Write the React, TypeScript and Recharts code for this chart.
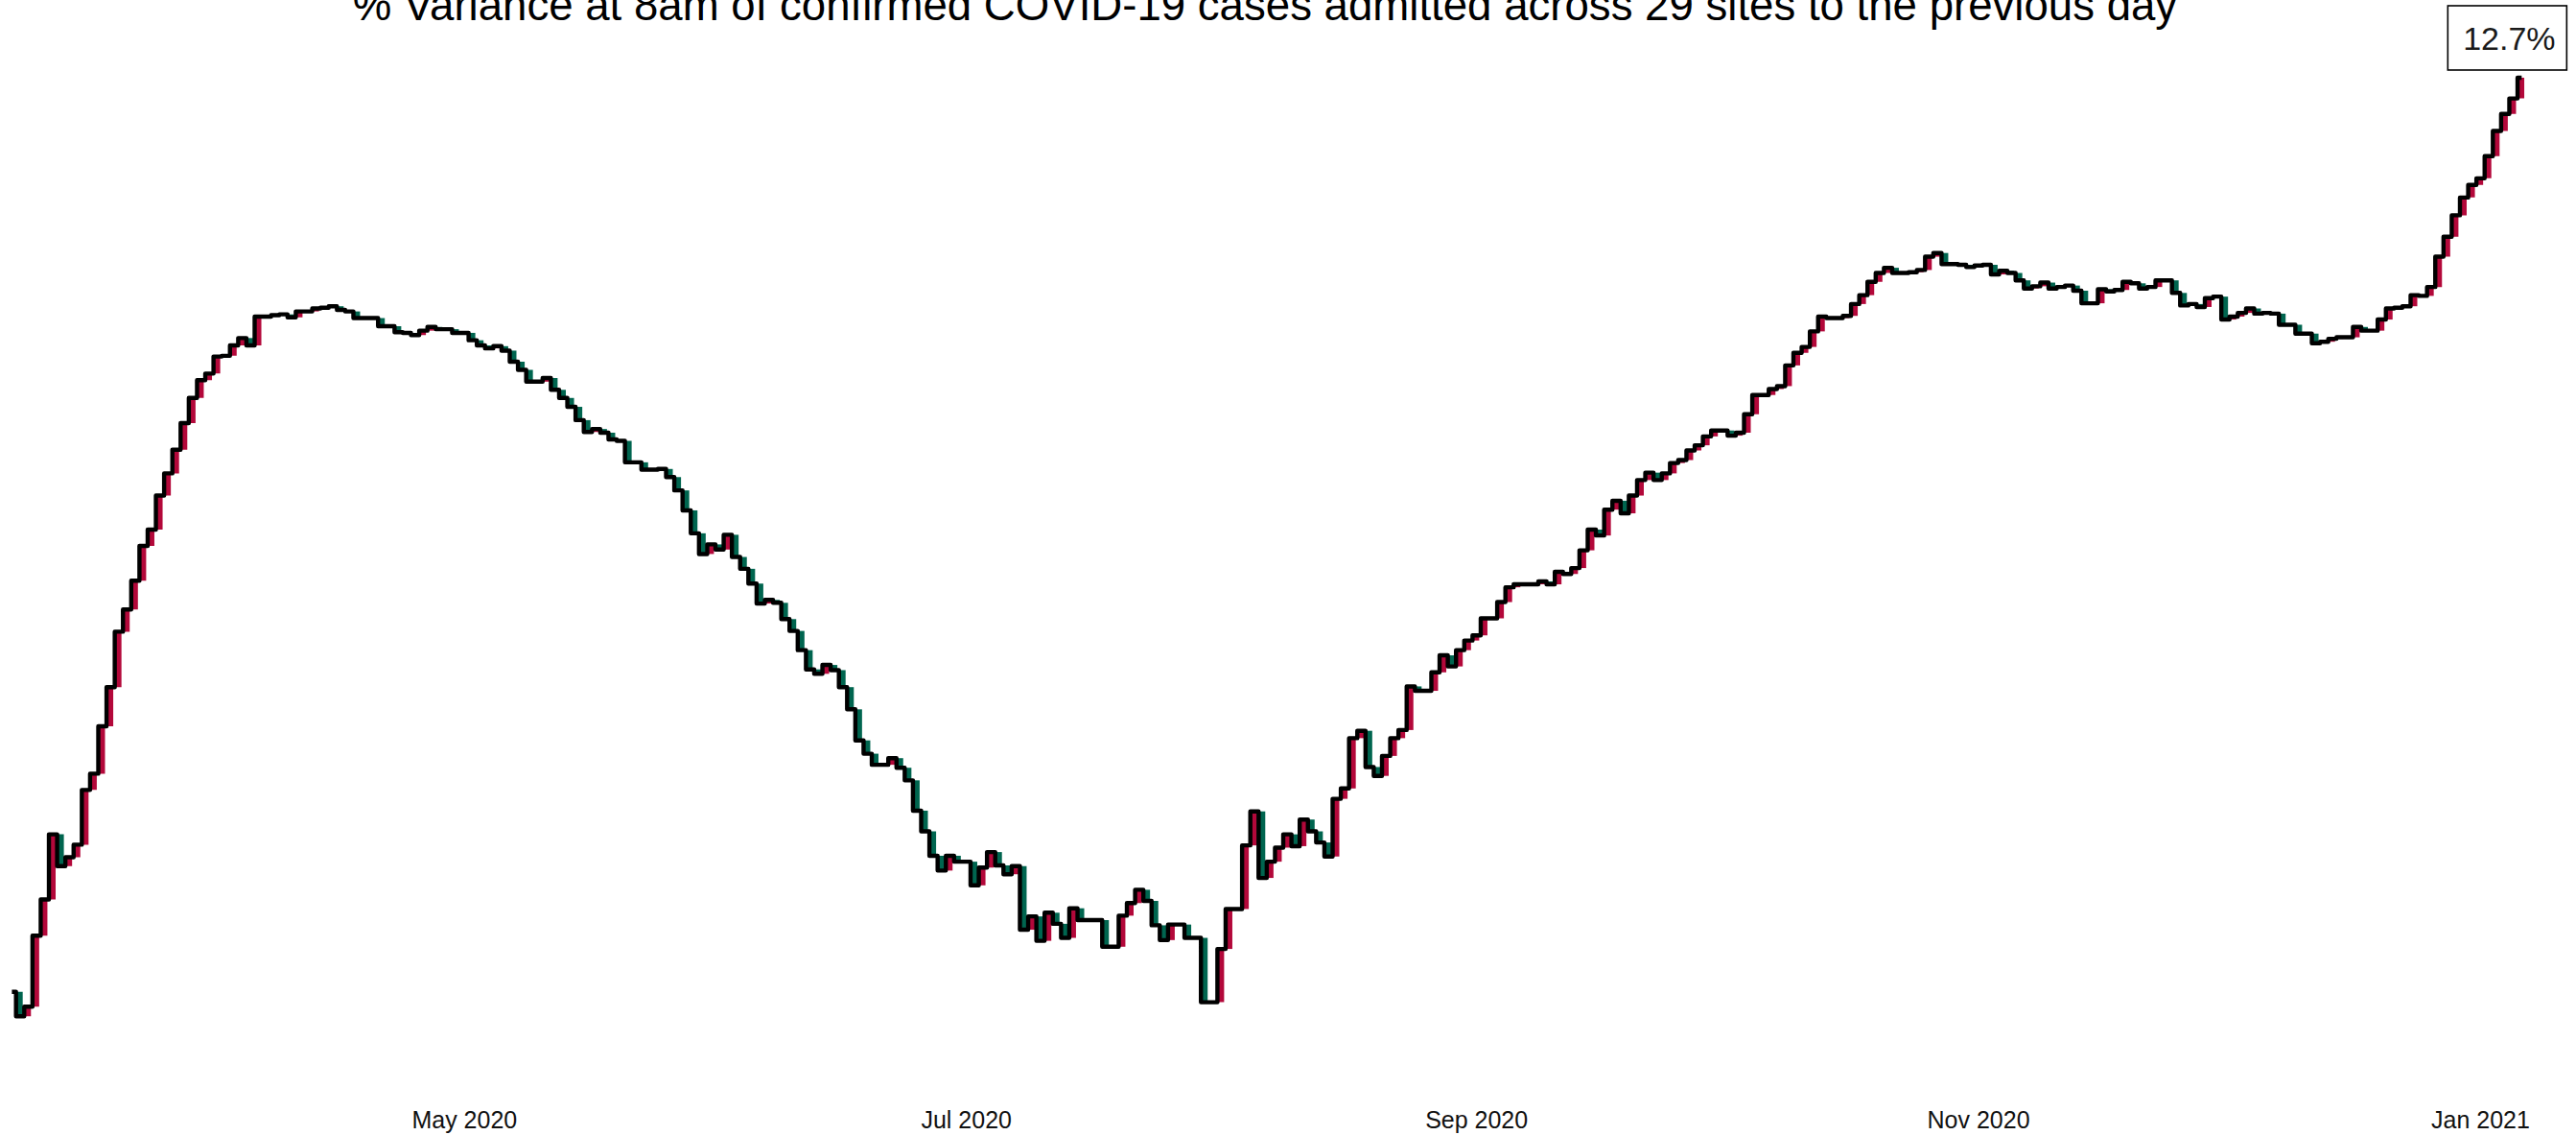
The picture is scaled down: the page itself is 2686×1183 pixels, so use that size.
import React from 'react';
import { ComposedChart, Line, Bar, XAxis, YAxis, Cell, ReferenceDot } from 'recharts';

const W = 2686;
const H = 1183;
const DAY_MS = 86400000;
const FIRST_DAY = Date.UTC(2020, 2, 7);

const TITLE = '% Variance at 8am of confirmed COVID-19 cases admitted across 29 sites to the previous day';

// one value per day, 7 Mar 2020 .. 6 Jan 2021
const dailyVariance = [
  0.34, 0.01, 0.14, 1.10, 1.59, 2.47, 2.04, 2.16, 2.33, 3.07,
  3.29, 3.93, 4.46, 5.21, 5.51, 5.90, 6.37, 6.59, 7.05, 7.35,
  7.67, 8.03, 8.37, 8.61, 8.70, 8.93, 8.94, 9.08, 9.18, 9.08,
  9.47, 9.47, 9.49, 9.50, 9.46, 9.54, 9.54, 9.58, 9.59, 9.61,
  9.56, 9.54, 9.45, 9.45, 9.45, 9.34, 9.34, 9.26, 9.25, 9.22,
  9.28, 9.33, 9.30, 9.30, 9.25, 9.25, 9.15, 9.08, 9.04, 9.07,
  9.01, 8.86, 8.75, 8.59, 8.59, 8.64, 8.48, 8.37, 8.25, 8.07,
  7.91, 7.95, 7.90, 7.81, 7.79, 7.50, 7.50, 7.40, 7.40, 7.41,
  7.30, 7.12, 6.85, 6.54, 6.26, 6.39, 6.32, 6.52, 6.22, 6.06,
  5.86, 5.59, 5.64, 5.60, 5.38, 5.22, 4.96, 4.70, 4.64, 4.76,
  4.69, 4.46, 4.16, 3.74, 3.56, 3.41, 3.41, 3.50, 3.37, 3.20,
  2.79, 2.51, 2.18, 1.98, 2.18, 2.10, 2.10, 1.78, 2.02, 2.23,
  2.05, 1.93, 2.04, 1.18, 1.36, 1.03, 1.41, 1.26, 1.07, 1.47,
  1.31, 1.31, 1.31, 0.95, 0.95, 1.37, 1.54, 1.72, 1.57, 1.24,
  1.04, 1.25, 1.25, 1.07, 1.07, 0.20, 0.20, 0.92, 1.46, 1.46,
  2.32, 2.78, 1.88, 2.10, 2.29, 2.47, 2.31, 2.67, 2.51, 2.36,
  2.17, 2.95, 3.09, 3.77, 3.87, 3.38, 3.26, 3.53, 3.77, 3.88,
  4.47, 4.41, 4.41, 4.66, 4.89, 4.74, 4.96, 5.09, 5.16, 5.39,
  5.39, 5.61, 5.81, 5.85, 5.85, 5.85, 5.89, 5.85, 6.02, 5.99,
  6.07, 6.31, 6.59, 6.51, 6.86, 6.98, 6.81, 7.05, 7.26, 7.36,
  7.26, 7.35, 7.49, 7.53, 7.66, 7.73, 7.85, 7.93, 7.93, 7.86,
  7.90, 8.15, 8.41, 8.41, 8.49, 8.53, 8.81, 8.98, 9.06, 9.27,
  9.47, 9.45, 9.45, 9.48, 9.64, 9.76, 9.94, 10.06, 10.13, 10.06,
  10.06, 10.07, 10.10, 10.28, 10.33, 10.18, 10.18, 10.17, 10.14, 10.16,
  10.17, 10.04, 10.09, 10.06, 9.96, 9.85, 9.88, 9.93, 9.85, 9.87,
  9.89, 9.82, 9.65, 9.65, 9.84, 9.81, 9.83, 9.94, 9.92, 9.85,
  9.87, 9.96, 9.96, 9.79, 9.62, 9.64, 9.60, 9.72, 9.74, 9.43,
  9.47, 9.52, 9.58, 9.51, 9.52, 9.51, 9.36, 9.36, 9.24, 9.24,
  9.11, 9.13, 9.17, 9.19, 9.19, 9.33, 9.28, 9.28, 9.43, 9.58,
  9.59, 9.61, 9.76, 9.75, 9.87, 10.28, 10.55, 10.84, 11.08, 11.25,
  11.34, 11.64, 11.98, 12.21, 12.42, 12.70,
];

const tickDates = [
  Date.UTC(2020, 4, 1),
  Date.UTC(2020, 6, 1),
  Date.UTC(2020, 8, 1),
  Date.UTC(2020, 10, 1),
  Date.UTC(2021, 0, 1),
];
const tickLabels = ['May 2020', 'Jul 2020', 'Sep 2020', 'Nov 2020', 'Jan 2021'];

const RED = '#B3083A';
const GREEN = '#00654F';
const FONT = "'Liberation Sans', Arial, Helvetica, sans-serif";

const rows = dailyVariance.map((v, i) => {
  const prev = i > 0 ? dailyVariance[i - 1] : v;
  return {
    t: FIRST_DAY + i * DAY_MS,
    v,
    change: [Math.min(prev, v), Math.max(prev, v)],
    up: v >= prev,
  };
});
const last = rows[rows.length - 1];

const AxisTick = (props: any) => {
  const { x, y, payload } = props;
  const idx = tickDates.indexOf(payload.value);
  return (
    <text x={x} y={y + 69.7} textAnchor="middle" fontFamily={FONT} fontSize={25} fill="#111">
      {idx >= 0 ? tickLabels[idx] : ''}
    </text>
  );
};

const EndLabel = (props: any) => {
  const { cx, cy } = props;
  if (cx == null || cy == null) return <g />;
  const bx = cx - 77;
  const by = cy - 75;
  return (
    <g>
      <rect x={bx} y={by} width={124} height={67} fill="#fff" stroke="#000" strokeWidth={1.6} />
      <text x={bx + 64} y={by + 46} textAnchor="middle" fontFamily={FONT} fontSize={34} fill="#1a1a1a">
        {`${last.v.toFixed(1)}%`}
      </text>
    </g>
  );
};

export default function App() {
  return (
    <div style={{ position: 'absolute', left: 0, top: 0, width: W, height: H, background: '#fff' }}>
      <ComposedChart
        width={W}
        height={H}
        data={rows}
        margin={{ top: 34.74, bottom: 16.74, left: 3.82, right: 39.5 }}
      >
        <XAxis
          dataKey="t"
          type="number"
          domain={[FIRST_DAY - DAY_MS, FIRST_DAY + 307 * DAY_MS]}
          ticks={tickDates}
          interval={0}
          axisLine={false}
          tickLine={false}
          tickSize={0}
          tickMargin={0}
          height={60}
          tick={<AxisTick />}
          allowDataOverflow
        />
        <YAxis hide type="number" domain={[-0.6, 13.3]} allowDataOverflow />
        <Bar dataKey="change" barSize={6} isAnimationActive={false}>
          {rows.map((r, i) => (
            <Cell key={i} fill={r.up ? RED : GREEN} />
          ))}
        </Bar>
        <Line
          type="step"
          dataKey="v"
          stroke="#000"
          strokeWidth={4.4}
          strokeLinejoin="round"
          strokeLinecap="butt"
          dot={false}
          activeDot={false}
          isAnimationActive={false}
        />
        <ReferenceDot x={last.t} y={last.v} r={0} ifOverflow="visible" shape={<EndLabel />} />
      </ComposedChart>
      <svg width={W} height={60} style={{ position: 'absolute', left: 0, top: 0, pointerEvents: 'none' }}>
        <text x={1319} y={21} textAnchor="middle" fontFamily={FONT} fontSize={45.6} fill="#000">
          {TITLE}
        </text>
      </svg>
    </div>
  );
}
